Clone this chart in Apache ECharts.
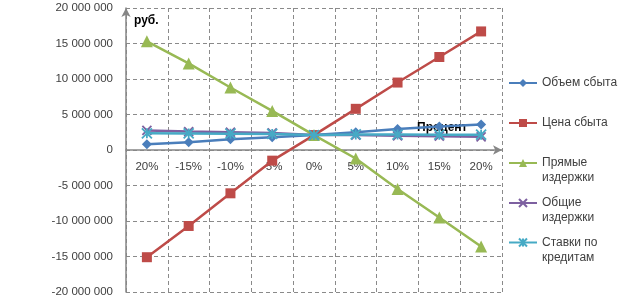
<!DOCTYPE html>
<html>
<head>
<meta charset="utf-8">
<script src="https://cdn.jsdelivr.net/npm/echarts@6/dist/echarts.min.js"></script>
<style>
html,body{margin:0;padding:0;background:#fff;}
#chart{width:623px;height:301px;}
</style>
</head>
<body>
<div id="chart"></div>
<script>
var categories = ['20%', '-15%', '-10%', '-5%', '0%', '5%', '10%', '15%', '20%'];
var yTicks = [-20000000, -15000000, -10000000, -5000000, 0, 5000000, 10000000, 15000000, 20000000];
var seriesNames = ['Объем сбыта', 'Цена сбыта', 'Прямые\nиздержки', 'Общие\nиздержки', 'Ставки по\nкредитам'];
var volume = [800000, 1100000, 1500000, 1800000, 2100000, 2500000, 2950000, 3300000, 3600000];
var price = [-15100000, -10700000, -6100000, -1500000, 2100000, 5800000, 9500000, 13100000, 16700000];
var directCosts = [15300000, 12200000, 8800000, 5500000, 2100000, -1200000, -5500000, -9500000, -13600000];
var totalCosts = [2750000, 2600000, 2500000, 2400000, 2100000, 2100000, 2000000, 1950000, 1850000];
var creditRates = [2350000, 2330000, 2300000, 2270000, 2100000, 2200000, 2170000, 2150000, 2150000];

var colors = ['#4A7EBB', '#BE4B48', '#98B954', '#7D60A0', '#46AAC5'];
var symbols = ['diamond', 'rect', 'triangle',
  'path://M0,0 L10,10 M10,0 L0,10',
  'path://M0,0 L10,10 M10,0 L0,10 M5,0 L5,10'];
var symbolSizes = [10, 10, 12, 9, 10];
var dataSets = [volume, price, directCosts, totalCosts, creditRates];

function fmt(v) {
  var s = String(Math.abs(v)).replace(/\B(?=(\d{3})+(?!\d))/g, ' ');
  return (v < 0 ? '-' : '') + s;
}

var series = seriesNames.map(function (n, i) {
  var stroke = i >= 3;
  return {
    name: n,
    type: 'line',
    xAxisIndex: 0,
    yAxisIndex: 0,
    data: dataSets[i],
    symbol: symbols[i],
    symbolSize: symbolSizes[i],
    showAllSymbol: true,
    lineStyle: { color: colors[i], width: 2.5 },
    itemStyle: stroke ? { color: colors[i], borderColor: colors[i], borderWidth: 1.8 } : { color: colors[i] },
    z: 2 + i
  };
});

var legendTops = [75.5, 115.5, 140.5, 180.5, 220];
var legends = seriesNames.map(function (n, i) {
  var multi = n.indexOf('\n') >= 0;
  return {
    data: [n],
    orient: 'vertical',
    left: 508,
    top: legendTops[i],
    padding: 0,
    itemWidth: 28,
    itemHeight: 10,
    itemGap: 0,
    formatter: function (name) { return multi ? '\u00a0\n' + name : name; },
    textStyle: { fontSize: 12, color: '#404040', lineHeight: 15, fontFamily: 'Liberation Sans, Arial, sans-serif' }
  };
});

var chart = echarts.init(document.getElementById('chart'), null, { renderer: 'canvas' });
chart.setOption({
  animation: false,
  backgroundColor: '#fff',
  textStyle: { fontFamily: 'Liberation Sans, Arial, sans-serif' },
  grid: [
    { left: 126, right: 121, top: 8, bottom: 9, containLabel: false, outerBoundsMode: 'none' },
    { left: 126, right: 121, top: 8, bottom: 151.2, containLabel: false, outerBoundsMode: 'none' }
  ],
  legend: legends,
  xAxis: [{
    type: 'category',
    gridIndex: 0,
    data: categories,
    boundaryGap: true,
    name: 'Процент',
    nameLocation: 'end',
    nameGap: -85,
    nameTextStyle: { fontWeight: 'bold', fontSize: 12, color: '#000', align: 'left', verticalAlign: 'bottom', padding: [0, 0, 16, 0] },
    axisLine: { onZero: true, lineStyle: { color: '#868686', width: 1.5 }, symbol: ['none', 'arrow'], symbolSize: [7, 9] },
    axisTick: { show: false },
    axisLabel: { show: false },
    splitLine: { show: true, interval: 0, lineStyle: { color: '#8a8a8a', type: [4, 3], width: 1 } }
  }, {
    type: 'category',
    gridIndex: 1,
    data: categories,
    boundaryGap: true,
    axisLine: { show: false },
    axisTick: { show: false },
    axisLabel: { interval: 0, color: '#404040', fontSize: 11.5, margin: 11 },
    splitLine: { show: false }
  }],
  yAxis: [{
    type: 'value',
    gridIndex: 0,
    min: yTicks[0],
    max: yTicks[yTicks.length - 1],
    interval: 5000000,
    name: 'руб.',
    nameLocation: 'end',
    nameGap: -13,
    nameTextStyle: { fontWeight: 'bold', fontSize: 12, color: '#000', align: 'left', verticalAlign: 'middle', padding: [0, 0, 0, 8] },
    axisLine: { show: true, onZero: false, lineStyle: { color: '#868686', width: 1.5 }, symbol: ['none', 'arrow'], symbolSize: [7, 9] },
    axisTick: { show: false },
    axisLabel: { color: '#404040', fontSize: 11.5, margin: 13, formatter: fmt },
    splitLine: { show: true, lineStyle: { color: '#8a8a8a', type: [4, 3], width: 1 } }
  }, {
    type: 'value',
    gridIndex: 1,
    min: 0,
    max: 1,
    show: false
  }],
  series: series
});
</script>
</body>
</html>
